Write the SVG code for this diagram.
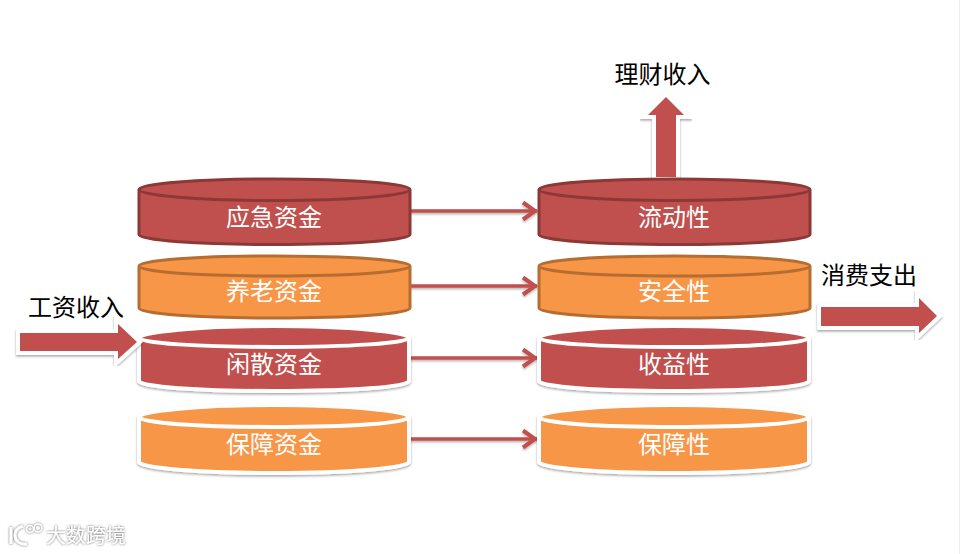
<svg xmlns="http://www.w3.org/2000/svg" width="960" height="554" viewBox="0 0 960 554">
<style>
text{font-family:"Liberation Sans","Noto Sans CJK SC",sans-serif;text-anchor:middle}
.lbl{font-size:24px;fill:#fff}
.cap{font-size:24px;fill:#000}
.red .b{fill:#c0504d;stroke:#8c3836}
.org .b{fill:#f79646;stroke:#b66d31}
.b{stroke-width:3}
.white .b{stroke:#fff;stroke-width:4}
.conn{fill:none;stroke:#c0504d;stroke-width:3.5}
.big{fill:#c0504d;stroke:#fff;stroke-width:8;stroke-linejoin:miter;stroke-miterlimit:6;paint-order:stroke;filter:url(#sh)}
</style>
<defs>
<filter id="sh" x="-20%" y="-20%" width="140%" height="140%"><feDropShadow dx="0" dy="1.500" stdDeviation="1.200" flood-color="#000" flood-opacity="0.350"/></filter>
<filter id="ls" x="-5%" y="-100%" width="110%" height="400%"><feDropShadow dx="0" dy="1.500" stdDeviation="1" flood-color="#000" flood-opacity="0.300"/></filter>
<filter id="wm" x="-10%" y="-30%" width="120%" height="160%"><feDropShadow dx="0" dy="0" stdDeviation="1.200" flood-color="#555" flood-opacity="1"/></filter>
<marker id="ah" markerUnits="userSpaceOnUse" markerWidth="20" markerHeight="24" refX="17" refY="12" orient="auto"><path d="M3 3.500L15 12L3 20.500" fill="none" stroke="#c0504d" stroke-width="4"/></marker>
</defs>
<rect width="960" height="554" fill="#fff"/>
<path d="M959.500 0V554" stroke="#eeeeee" stroke-width="1"/>
<g id="connectors" filter="url(#ls)">
<path class="conn" d="M409 211H537" marker-end="url(#ah)"/>
<path class="conn" d="M409 286H537" marker-end="url(#ah)"/>
<path class="conn" d="M409 358H537" marker-end="url(#ah)"/>
<path class="conn" d="M409 439H537" marker-end="url(#ah)"/>
</g>
<g id="arrow-up"><path class="big" d="M666 97L684 115H676V177H656V115H648Z"/></g>
<g id="node-yingji" class="red"><path class="b" d="M139 189.500V234.500C139 240.500 200 244.500 274.500 244.500C349 244.500 410 240.500 410 234.500V189.500C410 183.500 349 179 274.500 179C200 179 139 183.500 139 189.500C139 195.500 200 200.500 274.500 200.500C349 200.500 410 195.500 410 189.500"/><text class="lbl" x="274" y="226">应急资金</text></g>
<g id="node-yanglao" class="org"><path class="b" d="M139 266V308C139 314 200 318 274.500 318C349 318 410 314 410 308V266C410 260 349 256 274.500 256C200 256 139 260 139 266C139 272 200 276 274.500 276C349 276 410 272 410 266"/><text class="lbl" x="274" y="300">养老资金</text></g>
<g id="node-xiansan" class="red white"><path class="b" style="filter:url(#sh)" d="M139 338V381C139 387 200 391 274 391C349 391 409 387 409 381V338C409 332 349 326 274 326C200 326 139 332 139 338C139 343 200 347 274 347C349 347 409 343 409 338"/><text class="lbl" x="274" y="373">闲散资金</text></g>
<g id="node-baozhang" class="org white"><path class="b" style="filter:url(#sh)" d="M139 417V462C139 468 200 473 274 473C349 473 409 468 409 462V417C409 411 349 405 274 405C200 405 139 411 139 417C139 423 200 427 274 427C349 427 409 423 409 417"/><text class="lbl" x="274" y="453">保障资金</text></g>
<g id="node-liudong" class="red"><path class="b" d="M539 189.500V234.500C539 240.500 600 244.500 674.500 244.500C749 244.500 810 240.500 810 234.500V189.500C810 183.500 749 179 674.500 179C600 179 539 183.500 539 189.500C539 195.500 600 200.500 674.500 200.500C749 200.500 810 195.500 810 189.500"/><text class="lbl" x="674" y="226">流动性</text></g>
<g id="node-anquan" class="org"><path class="b" d="M539 266V308C539 314 600 318 674.500 318C749 318 810 314 810 308V266C810 260 749 256 674.500 256C600 256 539 260 539 266C539 272 600 276 674.500 276C749 276 810 272 810 266"/><text class="lbl" x="674" y="300">安全性</text></g>
<g id="node-shouyi" class="red white"><path class="b" style="filter:url(#sh)" d="M539 338V381C539 387 600 391 674 391C749 391 809 387 809 381V338C809 332 749 326 674 326C600 326 539 332 539 338C539 343 600 347 674 347C749 347 809 343 809 338"/><text class="lbl" x="674" y="373">收益性</text></g>
<g id="node-baozhangxing" class="org white"><path class="b" style="filter:url(#sh)" d="M539 417V462C539 468 600 473 674 473C749 473 809 468 809 462V417C809 411 749 405 674 405C600 405 539 411 539 417C539 423 600 427 674 427C749 427 809 423 809 417"/><text class="lbl" x="674" y="453">保障性</text></g>
<g id="arrow-in"><path class="big" d="M20 333H118V324L137 342L118 359V351H20Z"/><text class="cap" x="76" y="316">工资收入</text></g>
<g id="arrow-out"><path class="big" d="M821 307H919V298L937 316L919 333V326H821Z"/><text class="cap" x="869" y="284">消费支出</text></g>
<text class="cap" x="662.500" y="83">理财收入</text>
<g id="watermark" filter="url(#wm)"><path d="M11 527V544M23 526C17 528 15 531 15 535C15 541 20 545 27 544" fill="none" stroke="#fff" stroke-width="3"/><circle cx="30" cy="529" r="3.500" fill="none" stroke="#fff" stroke-width="1.500"/><circle cx="38" cy="528" r="4" fill="none" stroke="#fff" stroke-width="1.500"/><text x="86" y="543" style="font-size:20px;fill:#fff">大数跨境</text></g>
</svg>
